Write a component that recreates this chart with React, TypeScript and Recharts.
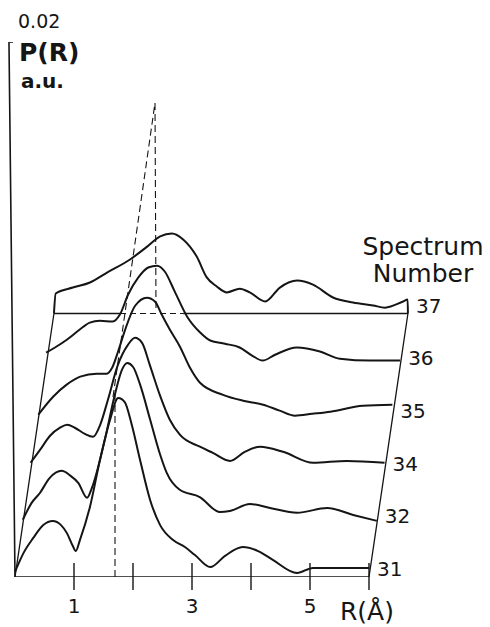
import { LineChart, Line, XAxis, YAxis, LabelList } from "recharts";

type Pt = [number, number];

const spectrumNumbers = [31, 32, 34, 35, 36, 37];

// P(R) per spectrum as [R (Å), P (a.u.)], before the waterfall offset
const spectrum31: Pt[] = [
  [0, 0.00019], [0.15, 0.00092], [0.31, 0.00146], [0.48, 0.00194], [0.64, 0.00209],
  [0.78, 0.00194], [0.88, 0.00164], [0.98, 0.00116], [1.03, 0.00097], [1.1, 0.00138],
  [1.27, 0.00262], [1.44, 0.00437], [1.61, 0.00587], [1.75, 0.00669], [1.86, 0.00654],
  [1.98, 0.00568], [2.12, 0.00437], [2.29, 0.00288], [2.46, 0.00194], [2.68, 0.00138],
  [2.88, 0.00112], [3.05, 0.00082], [3.31, 0.00037], [3.56, 0.00079], [3.86, 0.00112],
  [4.12, 0.00097], [4.37, 0.00064], [4.78, 0.00015], [5.05, 0.00034], [5.51, 0.00034],
  [6.0, 0.00034],
];
const spectrum32: Pt[] = [
  [0, 0.00017], [0.15, 0.0008], [0.29, 0.00117], [0.45, 0.00172], [0.66, 0.002],
  [0.8, 0.00183], [0.94, 0.00155], [1.09, 0.00099], [1.17, 0.00135], [1.39, 0.00316],
  [1.56, 0.00484], [1.68, 0.00577], [1.77, 0.00603], [1.87, 0.00588], [1.99, 0.00521],
  [2.16, 0.0039], [2.33, 0.00259], [2.44, 0.00192], [2.66, 0.00129], [3.0, 0.00102],
  [3.34, 0.00046], [3.51, 0.0005], [3.85, 0.00076], [4.19, 0.00061], [4.65, 0.00043],
  [5.16, 0.00061], [5.6, 0.00035], [6.0, 0.00013],
];
const spectrum34: Pt[] = [
  [0, 0.00033], [0.16, 0.00081], [0.33, 0.00134], [0.5, 0.00164], [0.62, 0.00175],
  [0.75, 0.00164], [0.92, 0.00141], [1.06, 0.0013], [1.18, 0.00175], [1.31, 0.00268],
  [1.48, 0.00399], [1.65, 0.00474], [1.77, 0.005], [1.89, 0.00481], [2.02, 0.00399],
  [2.19, 0.00287], [2.36, 0.00194], [2.53, 0.00138], [2.87, 0.00093], [3.09, 0.0007],
  [3.38, 0.0004], [3.63, 0.00074], [3.89, 0.00093], [4.28, 0.00074], [4.79, 0.00033],
  [5.36, 0.0004], [6.0, 0.00033],
];
const spectrum35: Pt[] = [
  [0, 0.00016], [0.25, 0.00083], [0.48, 0.00128], [0.71, 0.00158], [0.99, 0.00169],
  [1.16, 0.00169], [1.25, 0.00191], [1.35, 0.00251], [1.47, 0.00333], [1.64, 0.00423],
  [1.84, 0.00453], [1.98, 0.00438], [2.09, 0.0039], [2.23, 0.00333], [2.4, 0.0027],
  [2.57, 0.00191], [2.74, 0.00135], [3.13, 0.0009], [3.47, 0.00068], [3.81, 0.00053],
  [4.09, 0.00031], [4.35, 0.00012], [4.64, 0.00019], [4.95, 0.00027], [5.5, 0.00049],
  [6.0, 0.00053],
];
const spectrum36: Pt[] = [
  [0, 0.00051], [0.15, 0.0007], [0.35, 0.00099], [0.57, 0.00137], [0.74, 0.00163],
  [0.91, 0.0017], [1.13, 0.00167], [1.25, 0.00193], [1.39, 0.00268], [1.56, 0.00331],
  [1.73, 0.00369], [1.88, 0.00376], [2.01, 0.00354], [2.18, 0.00279], [2.39, 0.00185],
  [2.61, 0.00126], [2.78, 0.00096], [3.03, 0.00084], [3.28, 0.0007], [3.49, 0.0004],
  [3.67, 0.00021], [3.88, 0.00043], [4.25, 0.0007], [4.64, 0.00055], [4.98, 0.00028],
  [5.49, 0.00021], [6.0, 0.00021],
];
const spectrum37: Pt[] = [
  [0, 0], [0.03, 0.00075], [0.32, 0.00097], [0.61, 0.00116], [0.9, 0.00153],
  [1.29, 0.00202], [1.58, 0.0025], [1.8, 0.00288], [2.0, 0.00299], [2.19, 0.00277],
  [2.42, 0.00213], [2.59, 0.00135], [2.76, 0.00101], [2.93, 0.00079], [3.15, 0.00093],
  [3.32, 0.00079], [3.58, 0.00045], [3.83, 0.00097], [4.12, 0.00123], [4.39, 0.00108],
  [4.73, 0.0006], [5.07, 0.00041], [5.41, 0.0003], [5.61, 0.00022], [5.92, 0.00045],
  [5.995, 0.00052], [6.0, 0],
];
const spectra = [spectrum31, spectrum32, spectrum34, spectrum35, spectrum36, spectrum37];

// waterfall offset from one spectrum to the next
const stepR = 0.132;
const stepP = 0.00197;

const rTicks = [1, 2, 3, 4, 5, 6];
const rLabelled = [1, 3, 5];
const rMax = 6;
const pTop = 0.02;

// part of the back baseline hidden behind the curves (drawn dashed)
const backDash: Pt = [1.12, 2.19];

// dashed guides, in plot coordinates
const peakGuide: Pt[] = [[1.695, 0], [1.695, 0.00688]];
const apexGuide: Pt[] = [[1.661, 0.00673], [2.373, 0.01772], [2.39, 0.00991]];
const pAxis: Pt[] = [[-0.034, pTop], [-0.102, pTop], [0, 0]];

const INK = "#151515";
const FONT = "'DejaVu Sans', sans-serif";

const toXY = (pts: Pt[], k = 0) =>
  pts.map(([r, p]) => ({ x: r + k * stepR, y: p + k * stepP }));

const last = spectra.length - 1;
const baseAxis = toXY([[0, 0], [rMax, 0]]);
const leftEdge = spectra.map((_, k) => ({ x: k * stepR, y: k * stepP }));
const rightEdge = spectra.map((_, k) => ({
  x: rMax + k * stepR,
  y: k * stepP,
  label: String(spectrumNumbers[k]),
}));
const backSolidA = toXY([[0, 0], [backDash[0], 0]], last);
const backDashed = toXY([[backDash[0], 0], [backDash[1], 0]], last);
const backSolidB = toXY([[backDash[1], 0], [rMax, 0]], last);

const RTick = (props: any) => {
  const { x, y, payload } = props;
  return (
    <g>
      <line x1={x} x2={x} y1={y - 14} y2={y + 13} stroke={INK} strokeWidth={1.4} />
      {rLabelled.includes(payload.value) && (
        <text x={x} y={y + 36} textAnchor="middle" fontSize={20} fontFamily={FONT} fill={INK}>
          {payload.value}
        </text>
      )}
    </g>
  );
};

const NumberLabel = (props: any) => {
  const { x, y, value } = props;
  return (
    <text x={x + 8} y={y - 1} fontSize={20} fontFamily={FONT} fill={INK}>
      {value}
    </text>
  );
};

export default function App() {
  const frame = { stroke: INK, strokeWidth: 1.3, dot: false, activeDot: false, isAnimationActive: false } as const;
  return (
    <div style={{ position: "absolute", left: 0, top: 0, width: 490, height: 627, background: "#fff" }}>
      <LineChart width={490} height={627} margin={{ top: 42, right: 20, bottom: 0, left: 0 }}>
        <XAxis
          type="number"
          dataKey="x"
          domain={[-15 / 59, 455 / 59]}
          allowDataOverflow
          ticks={rTicks}
          axisLine={false}
          tickLine={false}
          tickSize={0}
          tickMargin={0}
          height={50}
          tick={<RTick />}
        />
        <YAxis type="number" dataKey="y" domain={[0, pTop]} allowDataOverflow hide />

        <Line data={toXY(pAxis)} dataKey="y" type="linear" {...frame} strokeWidth={1.6} />
        <Line data={baseAxis} dataKey="y" type="linear" {...frame} strokeWidth={1.6} />
        <Line data={leftEdge} dataKey="y" type="linear" {...frame} />
        <Line data={rightEdge} dataKey="y" type="linear" {...frame}>
          <LabelList dataKey="label" content={<NumberLabel />} />
        </Line>
        <Line data={backSolidA} dataKey="y" type="linear" {...frame} />
        <Line data={backDashed} dataKey="y" type="linear" {...frame} strokeWidth={1.1} strokeDasharray="6 4" />
        <Line data={backSolidB} dataKey="y" type="linear" {...frame} />
        <Line data={toXY(peakGuide)} dataKey="y" type="linear" {...frame} strokeWidth={1.1} strokeDasharray="7 4" />
        <Line data={toXY(apexGuide)} dataKey="y" type="linear" {...frame} strokeWidth={1.1} strokeDasharray="7 4" />

        {spectra.map((pts, k) => (
          <Line
            key={spectrumNumbers[k]}
            data={toXY(pts, k)}
            dataKey="y"
            name={String(spectrumNumbers[k])}
            type="monotone"
            stroke={INK}
            strokeWidth={2}
            dot={false}
            activeDot={false}
            isAnimationActive={false}
          />
        ))}
      </LineChart>
      <svg
        width={490}
        height={627}
        style={{ position: "absolute", left: 0, top: 0, pointerEvents: "none" }}
        fontFamily={FONT}
        fill={INK}
      >
        <text x={18} y={28} fontSize={19}>0.02</text>
        <text x={19} y={61} fontSize={25} fontWeight="bold">P(R)</text>
        <text x={21} y={88} fontSize={20} fontWeight="bold">a.u.</text>
        <text x={423} y={255} fontSize={25} textAnchor="middle">Spectrum</text>
        <text x={423} y={282} fontSize={25} textAnchor="middle">Number</text>
        <text x={340} y={620} fontSize={25}>R(Å)</text>
      </svg>
    </div>
  );
}
